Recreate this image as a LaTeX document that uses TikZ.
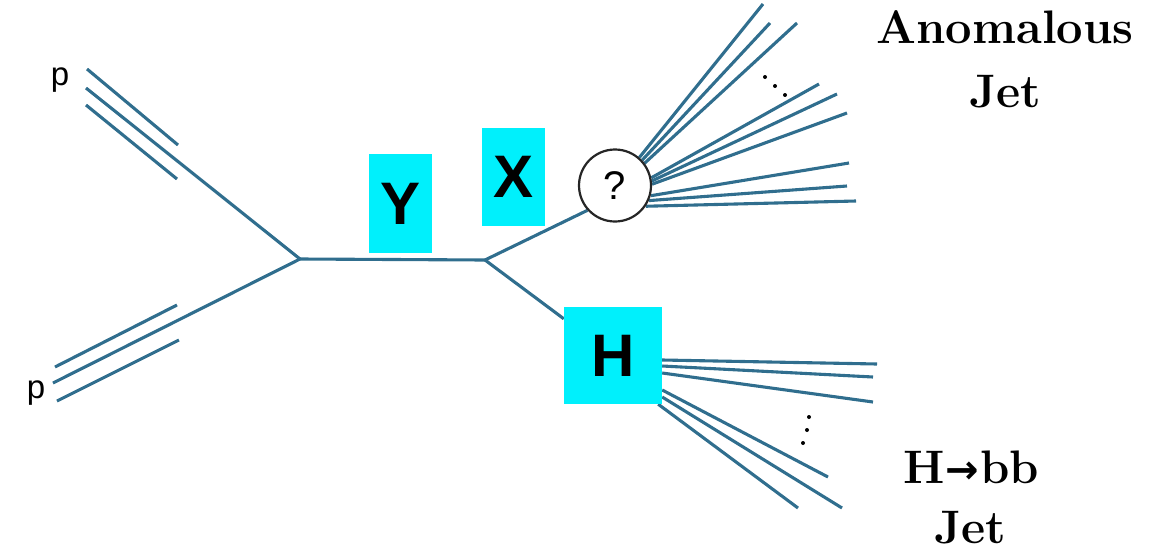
\documentclass[tikz,border=0pt]{standalone}
\usepackage{fontspec}
\newfontfamily\labelsans{Liberation Sans}
\newfontfamily\arrowfont{DejaVu Sans}
\usetikzlibrary{calc,backgrounds}
\definecolor{linecol}{RGB}{48,110,142}
\definecolor{boxcyan}{RGB}{0,240,252}
\begin{document}
\begin{tikzpicture}[x=1pt,y=-1pt,
  prop/.style={draw=linecol,line width=3.1pt},
  boson/.style={fill=boxcyan,inner sep=0pt,
    font=\labelsans\bfseries\fontsize{60}{60}\selectfont},
  blob/.style={circle,draw=black!85,line width=2.2pt,fill=white,
    minimum size=72pt,inner sep=0pt,font=\labelsans\fontsize{40}{40}\selectfont},
  beam/.style={inner sep=0pt,anchor=base,font=\labelsans\fontsize{33}{33}\selectfont},
  jettext/.style={inner sep=0pt,anchor=base,font=\bfseries\fontsize{47}{47}\selectfont},
  dot/.style={fill=black}]
\useasboundingbox (0,0) rectangle (1155,557);

% vertices
\coordinate (v1) at (300,259);
\coordinate (v2) at (485,260);

% intermediate particles
\node[boson,minimum width=63pt,minimum height=99pt] (Y) at (400.5,203.5) {Y};
\node[boson,minimum width=63pt,minimum height=98pt] (X) at (513.5,177) {X};
\node[boson,minimum width=98pt,minimum height=97pt] (H) at (613,355.5) {H};
\node[blob] (C) at (615,185.5) {?};

% incoming protons
\node[beam] (p1) at (60,85) {p};
\node[beam] (p2) at (36,398) {p};
\coordinate (pa1) at (87,69);   \coordinate (pb1) at (178,145);
\coordinate (pa2) at (86,88);
\coordinate (pa3) at (86,105);  \coordinate (pb3) at (177,179);
\coordinate (qa1) at (55,367);  \coordinate (qb1) at (177,305);
\coordinate (qa2) at (53,383);
\coordinate (qa3) at (57,401);  \coordinate (qb3) at (179,340);

% anomalous jet constituents
\coordinate (a1) at (763,4);
\coordinate (a2) at (770,23);
\coordinate (a3) at (797,23);
\coordinate (a4) at (819,84);
\coordinate (a5) at (837,94);
\coordinate (a6) at (847,113);
\coordinate (a7) at (849,163);
\coordinate (a8) at (847,186);
\coordinate (a9) at (856,201);

% H -> bb jet constituents
\coordinate (h1) at (877,364);
\coordinate (h2) at (873,377);
\coordinate (h3) at (873,402);
\coordinate (h4) at (828,477);
\coordinate (h5) at (842,508);
\coordinate (h6) at (798,508);

\begin{pgfonlayer}{background}
  \draw[prop] (pa1) -- (pb1);
  \draw[prop] (pa2) -- (v1);
  \draw[prop] (pa3) -- (pb3);
  \draw[prop] (qa1) -- (qb1);
  \draw[prop] (qa2) -- (v1);
  \draw[prop] (qa3) -- (qb3);
  \draw[prop] (v1) -- (v2);
  \draw[prop] (v2) -- (C.222);
  \draw[prop] (v2) -- (H);
  \draw[prop] (C.49) -- (a1);
  \draw[prop] (C.43) -- (a2);
  \draw[prop] (C.37) -- (a3);
  \draw[prop] (C.12) -- (a4);
  \draw[prop] (C.7) -- (a5);
  \draw[prop] (C.2) -- (a6);
  \draw[prop] (C.-16) -- (a7);
  \draw[prop] (C.-24) -- (a8);
  \draw[prop] (C.-34) -- (a9);
  \draw[prop] ([yshift=-4.5pt]H.east) -- (h1);
  \draw[prop] ([yshift=-10.5pt]H.east) -- (h2);
  \draw[prop] ([yshift=-17.5pt]H.east) -- (h3);
  \draw[prop] ([yshift=-34.5pt]H.east) -- (h4);
  \draw[prop] ([yshift=-41.5pt]H.east) -- (h5);
  \draw[prop] ([xshift=-4pt]H.south east) -- (h6);
\end{pgfonlayer}

% ellipsis dots
\fill[dot] (765,77) circle (2pt);
\fill[dot] (775,86) circle (2pt);
\fill[dot] (785,95) circle (2pt);
\fill[dot] (809,417) circle (2pt);
\fill[dot] (807,430) circle (2pt);
\fill[dot] (803,443) circle (2pt);

% jet labels
\node[jettext] (anom) at (1005,43) {Anomalous};
\node[jettext] (anomjet) at (1005,107) {Jet};
\node[jettext] (hbb) at (971,483) {H\kern1pt{\arrowfont\bfseries\fontsize{40}{40}\selectfont →}\kern1pt bb};
\node[jettext] (hjet) at (970,543) {Jet};
\end{tikzpicture}
\end{document}
